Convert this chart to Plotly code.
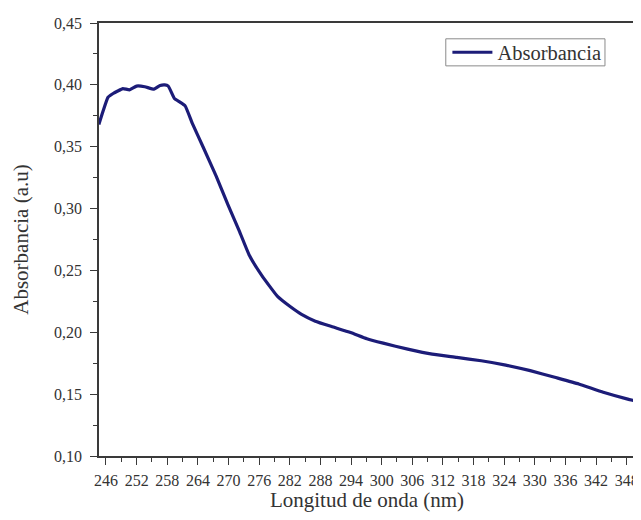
import plotly.graph_objects as go

wavelength_nm = [244.6, 245.4, 246.4, 247.4, 248.3, 249.3, 250.6, 252.0, 253.6, 255.4,
                 256.6, 257.5, 258.2, 259.4, 260.5, 261.5, 263.0, 265.0, 267.6, 269.9,
                 272.1, 274.1, 276.5, 279.6, 282.0, 284.3, 287.0, 289.9, 293.9, 297.1,
                 300.3, 305.1, 309.9, 314.7, 319.5, 324.3, 329.1, 333.9, 338.6, 343.4,
                 348.2, 349.6]
absorbance = [0.368, 0.3785, 0.390, 0.393, 0.395, 0.397, 0.396, 0.399, 0.3985, 0.3965,
              0.3995, 0.400, 0.399, 0.389, 0.386, 0.383, 0.368, 0.350, 0.326, 0.303,
              0.282, 0.262, 0.246, 0.229, 0.221, 0.2145, 0.209, 0.205, 0.1998, 0.1948,
              0.1912, 0.1864, 0.1823, 0.1797, 0.177, 0.1735, 0.169, 0.1636, 0.1582, 0.1515,
              0.146, 0.1447]
x_ticks = list(range(246, 349, 6))
y_ticks = [0.10, 0.15, 0.20, 0.25, 0.30, 0.35, 0.40, 0.45]

FONT = "Liberation Serif"
AX = "#3a3a3a"
TXT = "#333333"

fig = go.Figure()
fig.add_trace(go.Scatter(
    x=wavelength_nm, y=absorbance, mode="lines", name="Absorbancia",
    line=dict(color="#1c1c78", width=3.2, shape="spline", smoothing=0.4),
))

# legend frame (style only)
fig.add_shape(type="rect", xref="paper", yref="paper",
              x0=0.647, x1=0.944, y0=0.901, y1=0.9635,
              line=dict(color="#8a8a8a", width=1), fillcolor="rgba(0,0,0,0)", layer="above")

fig.update_layout(
    width=633, height=504,
    margin=dict(l=91, r=6, t=15, b=56),
    paper_bgcolor="white", plot_bgcolor="white",
    separators=",.",
    font=dict(family=FONT, size=16, color=TXT),
    showlegend=True,
    legend=dict(
        x=0.650, y=0.932, xanchor="left", yanchor="middle",
        bgcolor="rgba(0,0,0,0)", borderwidth=0,
        font=dict(family=FONT, size=20.5, color=TXT),
        itemwidth=40, tracegroupgap=0,
    ),
    xaxis=dict(
        range=[244.63, 349.62], tickvals=x_ticks, tickformat="d",
        ticks="outside", ticklen=7, tickwidth=1.2, tickcolor=AX,
        minor=dict(ticks="outside", dtick=3, tick0=246, ticklen=4, tickcolor=AX, tickwidth=1.2),
        showline=True, linecolor=AX, linewidth=1.5, mirror=True,
        showgrid=False, zeroline=False, ticklabelstandoff=2, automargin=False,
        tickfont=dict(family=FONT, size=16, color=TXT),
        title=dict(text="Longitud de onda (nm)", standoff=8,
                   font=dict(family=FONT, size=21, color=TXT)),
    ),
    yaxis=dict(
        range=[0.10, 0.45], tickvals=y_ticks, tickformat=".2f",
        ticks="outside", ticklen=7, tickwidth=1.2, tickcolor=AX,
        minor=dict(ticks="outside", dtick=0.025, tick0=0.10, ticklen=4, tickcolor=AX, tickwidth=1.2),
        showline=True, linecolor=AX, linewidth=1.5, mirror=True,
        showgrid=False, zeroline=False, ticklabelstandoff=5, automargin=False,
        tickfont=dict(family=FONT, size=16, color=TXT),
        title=dict(text="Absorbancia (a.u)", standoff=20,
                   font=dict(family=FONT, size=21, color=TXT)),
    ),
)

fig.write_html("out.html")
